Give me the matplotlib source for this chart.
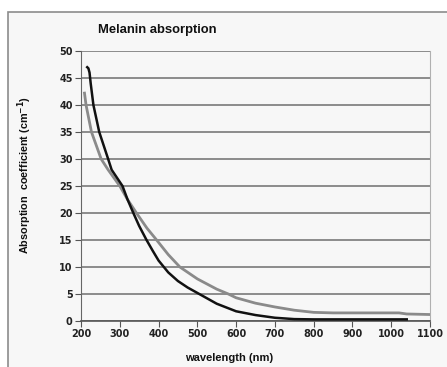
import matplotlib
matplotlib.use("Agg")
import matplotlib.pyplot as plt
from matplotlib.patches import Rectangle

# curve 1 (black)
wl_black = [216, 219, 222, 225, 232, 247, 270, 279, 307, 320, 335, 350, 369, 385,
            400, 425, 450, 475, 500, 550, 600, 650, 700, 750, 800, 900, 1000, 1040]
abs_black = [47.0, 46.8, 46.0, 44.0, 40.0, 35.0, 30.0, 28.0, 25.0, 22.5, 20.0, 17.6, 15.0, 13.0,
             11.2, 9.0, 7.4, 6.2, 5.2, 3.2, 1.8, 1.1, 0.6, 0.35, 0.3, 0.3, 0.3, 0.3]

# curve 2 (gray)
wl_gray = [209, 213, 220, 227, 252, 270, 300, 320, 343, 370, 395, 425, 455,
           500, 550, 580, 600, 650, 700, 750, 800, 850, 900, 1000, 1020, 1040, 1100]
abs_gray = [42.2, 40.0, 37.5, 35.0, 30.0, 28.0, 25.0, 22.5, 20.0, 17.2, 15.0, 12.3, 10.0,
            7.8, 5.9, 5.0, 4.3, 3.3, 2.6, 2.0, 1.6, 1.5, 1.5, 1.5, 1.5, 1.3, 1.2]

x_ticks = list(range(200, 1101, 100))
y_ticks = list(range(0, 51, 5))

BG = "#f7f7f7"

fig = plt.figure(figsize=(4.47, 3.67), dpi=100)
fig.patch.set_facecolor("white")

# outer chart frame
frame = Rectangle((8 / 447, -0.1), 1.2, 1 - 12 / 367 + 0.1, transform=fig.transFigure,
                  facecolor=BG, edgecolor="#8c8c8c", linewidth=1.2, zorder=-5)
fig.patches.append(frame)

ax = fig.add_axes([81 / 447, 1 - 321 / 367, 349 / 447, 270 / 367])
ax.set_facecolor(BG)

ax.plot(wl_gray, abs_gray, color="#8a8a8a", linewidth=2.0, zorder=3)
ax.plot(wl_black, abs_black, color="#111111", linewidth=1.8, zorder=4)

ax.set_xlim(200, 1100)
ax.set_ylim(0, 50)
ax.set_xticks(x_ticks)
ax.set_yticks(y_ticks)
ax.grid(axis="y", color="#7a7a7a", linewidth=1.2)
ax.set_axisbelow(True)

ax.spines["top"].set_visible(False)
ax.spines["right"].set_color("#b0b0b0")
ax.spines["left"].set_color("#666666")
ax.spines["bottom"].set_color("#555555")
ax.spines["bottom"].set_linewidth(1.2)

ax.tick_params(axis="both", direction="out", length=4, width=0.8, color="#555555",
               labelsize=7, pad=2)
for lab in ax.get_xticklabels() + ax.get_yticklabels():
    lab.set_fontweight("bold")
    lab.set_fontfamily("DejaVu Sans")
    lab.set_color("#222222")

fig.text(98 / 447, 1 - 30 / 367, "Melanin absorption", fontsize=9.4, fontweight="bold",
         family="Liberation Sans", va="center", ha="left", color="#111111")
fig.text(229 / 447, 1 - 358 / 367, "wavelength (nm)", fontsize=8, fontweight="bold",
         family="Liberation Sans", va="center", ha="center", color="#111111")
fig.text(25 / 447, 1 - 175 / 367, "Absorption  coefficient (cm$^{\\mathbf{-1}}$)", fontsize=7.8,
         fontweight="bold", family="Liberation Sans", va="center", ha="center",
         rotation=90, color="#111111")

fig.savefig("out.png", dpi=100, facecolor=fig.get_facecolor())
